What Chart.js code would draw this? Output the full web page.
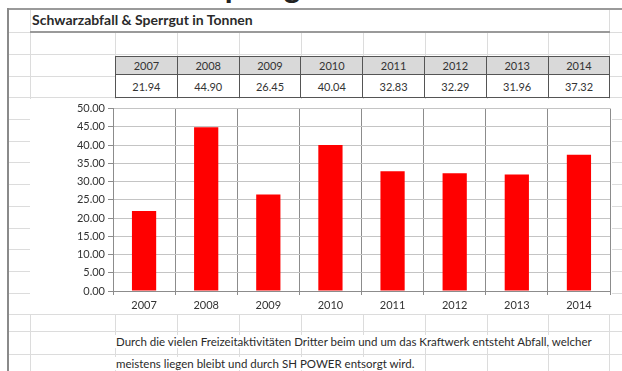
<!DOCTYPE html>
<html lang="de">
<head>
  <meta charset="utf-8"/>
  <title>Schwarzabfall &amp; Sperrgut in Tonnen</title>
  <script src="https://cdn.jsdelivr.net/npm/chart.js"></script>
  <style>
    html, body { margin: 0; padding: 0; background: #fff; }
    body { width: 622px; height: 371px; position: relative; overflow: hidden; font-family: Lato, "Open Sans", sans-serif; color: #222; }
    .hl { position: absolute; height: 1px; background: #dcdcdc; }
    .vl { position: absolute; width: 1px; background: #dcdcdc; }
    #bigTitle { position: absolute; font-size: 32px; font-weight: bold; white-space: nowrap; line-height: 1; }
    #title { position: absolute; left: 32px; top: 11px; font-size: 14px; font-weight: bold; color: #2a2a2a; }
    #titleLine { position: absolute; left: 30px; top: 31px; width: 580px; height: 2px; background: #9a9a9a; }
    #topLine { position: absolute; left: 7px; top: 8px; width: 615px; height: 2px; background: #9a9a9a; }
    #leftLine { position: absolute; left: 7px; top: 8px; width: 2px; height: 363px; background: #8a8a8a; }
    #yearTable { position: absolute; left: 115px; top: 56px; border-collapse: collapse; font-size: 11px; color: #333; }
    #yearTable td { width: 60.8px; text-align: center; border: 1px solid #555; padding: 0; }
    #yearTable tr.head td { background: #d9d9d9; height: 17px; }
    #yearTable tr.vals td { background: #fff; height: 22px; }
    #chartBox { position: absolute; left: 30px; top: 99px; width: 582px; height: 215px; background: #fff; }
    .note { position: absolute; left: 114px; font-size: 11.5px; color: #2a2a2a; background: #fff; white-space: nowrap; padding: 0 2px; }
  </style>
</head>
<body>
  <div id="sheet"></div>
  <div id="bigTitle">Schwarzabfall &amp; Sperrgut</div>
  <div id="topLine"></div>
  <div id="leftLine"></div>
  <div id="title">Schwarzabfall &amp; Sperrgut in Tonnen</div>
  <div id="titleLine"></div>
  <table id="yearTable"></table>
  <div id="chartBox"><canvas id="wasteChart" width="582" height="215"></canvas></div>
  <div class="note" style="top:335px">Durch die vielen Freizeitaktivitäten Dritter beim und um das Kraftwerk entsteht Abfall, welcher</div>
  <div class="note" style="top:357px">meistens liegen bleibt und durch SH POWER entsorgt wird.</div>

  <script>
    // Jahre und Mengen (Tonnen)
    const years = ['2007', '2008', '2009', '2010', '2011', '2012', '2013', '2014'];
    const tonnes = [21.94, 44.90, 26.45, 40.04, 32.83, 32.29, 31.96, 37.32];
    const yTicks = [0, 5, 10, 15, 20, 25, 30, 35, 40, 45, 50];

    // Tabellenraster im Hintergrund
    const sheet = document.getElementById('sheet');
    const rows = [32, 54, 76, 97, 119, 141, 162, 184, 206, 228, 249, 271, 293, 314, 331, 354];
    const cols = [30, 115, 177, 239, 301, 363, 425, 487, 548, 609];
    rows.forEach(y => {
      const d = document.createElement('div');
      d.className = 'hl';
      d.style.left = '9px'; d.style.top = y + 'px'; d.style.width = '613px';
      sheet.appendChild(d);
    });
    cols.forEach((x, i) => {
      const d = document.createElement('div');
      d.className = 'vl';
      const top = (i === 0 || i === cols.length - 1) ? 10 : 33;
      d.style.left = x + 'px'; d.style.top = top + 'px'; d.style.height = (371 - top) + 'px';
      sheet.appendChild(d);
    });

    // grosse Überschrift darüber, nur die Unterlängen ragen ins Bild
    const big = document.getElementById('bigTitle');
    const mctx = document.createElement('canvas').getContext('2d');
    mctx.font = 'bold 32px Lato';
    big.style.left = (225 - mctx.measureText('Schwarzabfall & S').width) + 'px';
    big.style.top = '-30px';

    // Wertetabelle über dem Diagramm
    const table = document.getElementById('yearTable');
    const head = table.insertRow(); head.className = 'head';
    const vals = table.insertRow(); vals.className = 'vals';
    years.forEach((y, i) => {
      head.insertCell().textContent = y;
      vals.insertCell().textContent = tonnes[i].toFixed(2);
    });

    Chart.defaults.font.family = 'Lato, "Open Sans", sans-serif';
    Chart.defaults.font.size = 11;
    Chart.defaults.color = '#333';

    new Chart(document.getElementById('wasteChart'), {
      type: 'bar',
      data: {
        labels: years,
        datasets: [{
          data: tonnes,
          backgroundColor: '#ff0000',
          borderWidth: 0,
          categoryPercentage: 1,
          barPercentage: 0.39
        }]
      },
      options: {
        responsive: false,
        animation: false,
        layout: { padding: { top: 9.5, right: 2, left: 0, bottom: 0 } },
        plugins: { legend: { display: false }, tooltip: { enabled: false } },
        scales: {
          x: {
            afterFit: s => { s.height = 23; },
            grid: { offset: true, color: '#8c8c8c', tickLength: 4, tickColor: '#8c8c8c' },
            border: { color: '#8c8c8c' },
            ticks: { padding: 4, color: '#333' }
          },
          y: {
            min: 0,
            max: 50,
            afterFit: s => { s.width = 83; },
            afterBuildTicks: s => { s.ticks = yTicks.map(v => ({ value: v })); },
            grid: { color: '#c4c4c4', tickLength: 5, tickColor: '#8c8c8c' },
            border: { color: '#8c8c8c' },
            ticks: { padding: 3, color: '#333', callback: v => v.toFixed(2) }
          }
        }
      }
    });
  </script>
</body>
</html>
